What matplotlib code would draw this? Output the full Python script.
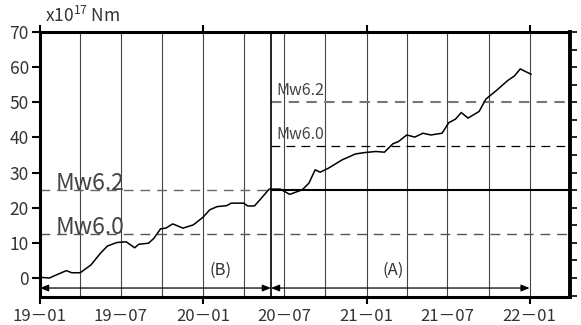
import matplotlib
matplotlib.use("Agg")
import matplotlib.pyplot as plt
import matplotlib.dates as mdates
import pandas as pd

plt.rcParams['font.family'] = ['Noto Sans CJK JP', 'DejaVu Sans']
plt.rcParams['mathtext.fontset'] = 'custom'
plt.rcParams['mathtext.rm'] = 'Noto Sans CJK JP'

# cumulative seismic moment, x10^17 Nm
dates = ["2019-01-01", "2019-01-22", "2019-02-07", "2019-03-01", "2019-03-13",
         "2019-04-01", "2019-04-25", "2019-05-16", "2019-06-01", "2019-06-22",
         "2019-07-13", "2019-08-01", "2019-08-10", "2019-09-01", "2019-09-13",
         "2019-09-28", "2019-10-10", "2019-10-25", "2019-11-17", "2019-12-10",
         "2020-01-01", "2020-01-16", "2020-02-01", "2020-02-23", "2020-03-04",
         "2020-04-01", "2020-04-10", "2020-04-25", "2020-05-07", "2020-05-28",
         "2020-06-02", "2020-06-22", "2020-07-13", "2020-08-10", "2020-08-25",
         "2020-09-08", "2020-09-19", "2020-10-07", "2020-11-07", "2020-12-07",
         "2020-12-28", "2021-01-22", "2021-02-10", "2021-03-01", "2021-03-13",
         "2021-04-01", "2021-04-19", "2021-05-07", "2021-05-25", "2021-06-19",
         "2021-07-04", "2021-07-19", "2021-08-01", "2021-08-16", "2021-09-10",
         "2021-09-25", "2021-10-19", "2021-11-13", "2021-11-28", "2021-12-11",
         "2021-12-22", "2022-01-04"]
moment = [0.2, 0.0, 0.9, 2.1, 1.5,
          1.5, 3.7, 7.0, 9.1, 10.1,
          10.3, 8.6, 9.6, 9.9, 11.3,
          14.0, 14.2, 15.4, 14.2, 15.1,
          17.3, 19.4, 20.3, 20.6, 21.3,
          21.3, 20.5, 20.5, 22.2, 25.3,
          25.3, 25.3, 23.8, 25.1, 27.0,
          30.8, 30.1, 31.2, 33.6, 35.3,
          35.7, 36.0, 35.8, 38.2, 38.8,
          40.7, 40.1, 41.2, 40.7, 41.2,
          44.2, 45.2, 47.1, 45.5, 47.4,
          50.9, 53.4, 56.2, 57.5, 59.5,
          58.8, 58.0]

mw62 = 25.0
mw60 = 12.5
split = pd.Timestamp("2020-06-01")
start = pd.Timestamp("2019-01-01")
end = pd.Timestamp("2022-01-01")
x_min = pd.Timestamp("2019-01-01")
x_max = pd.Timestamp("2022-04-01")

fig = plt.figure(figsize=(5.81, 3.25), dpi=100)
ax = fig.add_axes([0.0688, 0.0862, 0.912, 0.8153])

x = pd.to_datetime(dates)

for d in pd.date_range("2019-04-01", "2022-01-01", freq="QS"):
    ax.axvline(d, color="#444444", lw=0.8, zorder=1)

# (B) reference levels
ax.axhline(mw60, color="#555555", lw=1.0, ls=(0, (7, 5)), zorder=2)
ax.hlines(mw62, x_min, split, color="#666666", lw=1.0, ls=(0, (7, 5)), zorder=2)
ax.text(pd.Timestamp("2019-02-04"), mw62, "Mw6.2", fontsize=16.5, color="#444444",
        va="baseline", ha="left")
ax.text(pd.Timestamp("2019-02-04"), mw60, "Mw6.0", fontsize=16.5, color="#444444",
        va="baseline", ha="left")

# (A) levels relative to the split
ax.axvline(split, color="black", lw=1.2, zorder=3)
ax.hlines(mw62, split, x_max, color="black", lw=1.5, zorder=3)
ax.hlines(mw62 + mw60, split, x_max, color="black", lw=0.9, ls=(0, (7, 5)), zorder=2)
ax.hlines(mw62 + mw62, split, x_max, color="#777777", lw=1.5, ls=(0, (5, 3.5)), zorder=2)
ax.text(pd.Timestamp("2020-06-14"), mw62 + mw62 + 1.0, "Mw6.2", fontsize=11.5,
        color="#444444", va="bottom", ha="left")
ax.text(pd.Timestamp("2020-06-14"), mw62 + mw60 + 1.0, "Mw6.0", fontsize=11.5,
        color="#444444", va="bottom", ha="left")

ax.plot(x, moment, color="black", lw=1.1, zorder=4)

# period arrows
arrow_y = -2.85
arrow = dict(arrowstyle="<|-|>,head_length=0.5,head_width=0.2", color="black",
             lw=0.9, shrinkA=0, shrinkB=0)
ax.annotate("", xy=(split, arrow_y), xytext=(start, arrow_y), arrowprops=arrow)
ax.annotate("", xy=(end, arrow_y), xytext=(split, arrow_y), arrowprops=arrow)
ax.text(pd.Timestamp("2020-02-10"), 2.3, "(B)", fontsize=12, color="#333333",
        ha="center", va="center")
ax.text(pd.Timestamp("2021-03-01"), 2.3, "(A)", fontsize=12, color="#333333",
        ha="center", va="center")

ax.set_xlim(x_min, x_max)
ax.set_ylim(-5.4, 70)
ax.set_yticks(range(0, 71, 10))

# year ticks (unlabelled), half-year labels on length-0 minor ticks
ax.xaxis.remove_overlapping_locs = False
ax.xaxis.set_major_locator(mdates.YearLocator())
ax.xaxis.set_minor_locator(mdates.MonthLocator(bymonth=(1, 7)))
ax.xaxis.set_major_formatter(plt.NullFormatter())
ax.xaxis.set_minor_formatter(mdates.DateFormatter("%y－%m"))
ax.tick_params(axis="x", which="major", direction="out", length=5, width=1.5,
               top=True, labelbottom=False)
ax.tick_params(axis="x", which="minor", length=0, labelsize=12, pad=8,
               labelcolor="#333333")
ax.tick_params(axis="y", direction="out", length=6, width=1.5, labelsize=12.5,
               pad=2, labelcolor="#333333")

for s in ax.spines.values():
    s.set_linewidth(2.2)
ax.spines["right"].set_linewidth(2.8)

ax2 = ax.twinx()
ax2.set_ylim(-5.4, 70)
ax2.set_yticks(range(-5, 71, 5))
ax2.tick_params(axis="y", direction="out", length=5, width=1.2, labelright=False)
for s in ax2.spines.values():
    s.set_visible(False)

fig.text(45 / 581, 0.932, "x10$^{\\mathrm{17}}$ Nm", fontsize=12.5, color="#333333",
         va="baseline", ha="left")
# clipped title brackets at the very top edge
fig.text(200 / 581, 1.035, "(", fontsize=12.5, color="#333333", va="center")
fig.text(437 / 581, 1.035, ")", fontsize=12.5, color="#333333", va="center")

fig.savefig("out.png", dpi=100)
